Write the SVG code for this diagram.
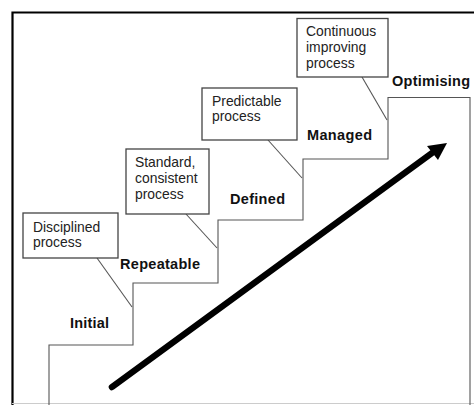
<svg xmlns="http://www.w3.org/2000/svg" width="474" height="405" viewBox="0 0 474 405">
<style>
.box{fill:#fff;stroke:#444;stroke-width:1.3}
.t{font-family:"Liberation Sans",Arial,sans-serif;font-size:13.9px;fill:#222}
.b{font-family:"Liberation Sans",Arial,sans-serif;font-size:14.5px;font-weight:bold;fill:#111}
.ln{stroke:#555;stroke-width:1.1;fill:none}
</style>
<rect x="0" y="0" width="474" height="405" fill="#fff"/>
<path d="M12.5,405 V12.5 H474" fill="none" stroke="#000" stroke-width="2.2"/>
<line x1="12" y1="403.5" x2="474" y2="403.5" stroke="#ccc" stroke-width="1.2"/>
<g id="stairs">
<path class="ln" d="M49,405 V345 H133 V283 H218 V220 H303 V159 H388 V97.5 H470 V405" stroke="#666"/>
</g>
<g id="connectors">
<line class="ln" x1="362" y1="77" x2="387" y2="120"/>
<line class="ln" x1="268" y1="140" x2="302" y2="178"/>
<line class="ln" x1="186" y1="214" x2="217" y2="248"/>
<line class="ln" x1="97" y1="258" x2="132" y2="307"/>
<line x1="112" y1="387" x2="432" y2="153" stroke="#000" stroke-width="6.5" stroke-linecap="round"/>
<polygon points="447,143 427,146 438,160" fill="#000"/>
</g>
<g id="n-continuous">
<rect class="box" x="297" y="18.5" width="91" height="58.5"/>
<text class="t" x="306" y="36">Continuous</text>
<text class="t" x="306" y="52">improving</text>
<text class="t" x="306" y="68">process</text>
</g>
<g id="n-predictable">
<rect class="box" x="202" y="88" width="95" height="52"/>
<text class="t" x="212" y="106">Predictable</text>
<text class="t" x="212" y="121">process</text>
</g>
<g id="n-standard">
<rect class="box" x="126" y="149" width="83" height="65"/>
<text class="t" x="135" y="167">Standard,</text>
<text class="t" x="135" y="183">consistent</text>
<text class="t" x="135" y="199">process</text>
</g>
<g id="n-disciplined">
<rect class="box" x="23" y="213" width="95" height="45"/>
<text class="t" x="33" y="232">Disciplined</text>
<text class="t" x="33" y="247">process</text>
</g>
<g id="labels">
<text class="b" x="392" y="86" textLength="78">Optimising</text>
<text class="b" x="307" y="140" textLength="65">Managed</text>
<text class="b" x="230" y="204" textLength="55">Defined</text>
<text class="b" x="120" y="269" textLength="80">Repeatable</text>
<text class="b" x="70" y="328" textLength="39">Initial</text>
</g>
</svg>
